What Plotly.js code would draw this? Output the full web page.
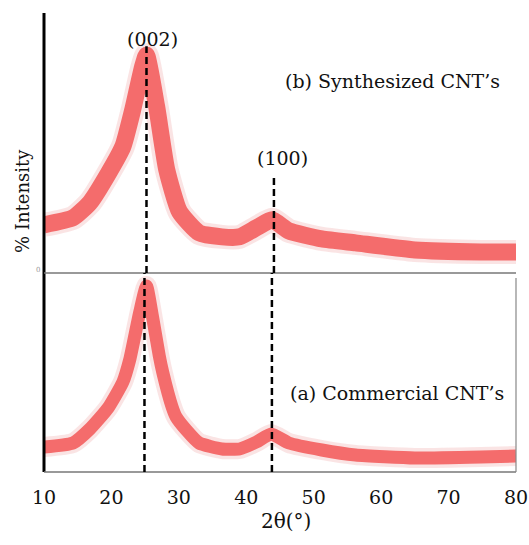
<!DOCTYPE html>
<html>
<head>
<meta charset="utf-8">
<script src="https://cdn.plot.ly/plotly-3.0.1.min.js"></script>
<style>html,body{margin:0;padding:0;background:#fff;}#chart{width:529px;height:545px;}</style>
</head>
<body>
<div id="chart"></div>
<script>
// (a) Commercial CNT's — 2θ (deg) and intensity (a.u.)
const twoThetaA = [10, 14.3, 16.8, 19.5, 21.7, 22.7, 24.2, 25.2, 26.1, 27.1, 27.6, 29, 29.6, 31.1, 33, 36.4, 39, 41.5, 43.7, 46.3, 51.2, 56.2, 65, 74.8, 80];
const intensityA = [25, 29, 43, 64, 90, 112, 160, 186, 155, 116, 100, 65, 55, 42, 29, 23, 23, 30, 38, 29, 22, 17, 14, 15, 16];
// (b) Synthesized CNT's
const twoThetaB = [10, 14.3, 16.8, 19.7, 21.7, 23.1, 24.6, 25.2, 26.7, 28.2, 30.1, 33, 36.4, 39, 41.5, 43.8, 46.3, 51.2, 56.2, 65, 74.8, 80];
const intensityB = [48, 55, 70, 101, 126, 161, 205, 217, 166, 103, 61, 40, 36, 36, 45, 53, 42, 34, 30, 23, 21, 21];
// peak markers
const peakLabels = ["(002)", "(100)"];
const peaksA = [24.9, 43.8];
const peaksB = [25.2, 44.1];
const xTicks = [10, 20, 30, 40, 50, 60, 70, 80];
const seriesLabels = ["(a) Commercial CNT\u2019s", "(b) Synthesized CNT\u2019s"];

const red = 'rgb(244,108,108)';
const fringe = 'rgba(230,130,130,0.22)';
const serif = 'DejaVu Serif';

function band(x, y, ya, w) {
  return [
    {x: x, y: y, xaxis: 'x', yaxis: ya, mode: 'lines',
     line: {color: fringe, width: w + 7, shape: 'spline', smoothing: 0.5}, hoverinfo: 'skip'},
    {x: x, y: y, xaxis: 'x', yaxis: ya, mode: 'lines',
     line: {color: red, width: w, shape: 'spline', smoothing: 0.5}, hoverinfo: 'skip'}
  ];
}
const traces = band(twoThetaA, intensityA, 'y', 13).concat(band(twoThetaB, intensityB, 'y2', 17));

const split = 199 / 459;
const dash = {color: '#000', width: 2.5, dash: '7px,4px'};
const shapes = [
  {type: 'line', xref: 'paper', yref: 'paper', x0: 0, x1: 0, y0: 0, y1: 1, line: {color: '#000', width: 3}},
  {type: 'line', xref: 'paper', yref: 'paper', x0: 0, x1: 1, y0: 0, y1: 0, line: {color: '#777', width: 1.5}},
  {type: 'line', xref: 'paper', yref: 'paper', x0: 0, x1: 1, y0: split, y1: split, line: {color: '#777', width: 1.5}},
  {type: 'line', xref: 'paper', yref: 'paper', x0: 1, x1: 1, y0: 0, y1: split - 5/459, line: {color: '#888', width: 1.2}},
  {type: 'line', xref: 'x', yref: 'y2', x0: peaksB[0], x1: peaksB[0], y0: 0, y1: 226, line: dash},
  {type: 'line', xref: 'x', yref: 'y2', x0: peaksB[1], x1: peaksB[1], y0: 0, y1: 96, line: dash},
  {type: 'line', xref: 'x', yref: 'y', x0: peaksA[0], x1: peaksA[0], y0: 0, y1: 199, line: dash},
  {type: 'line', xref: 'x', yref: 'y', x0: peaksA[1], x1: peaksA[1], y0: 0, y1: 199, line: dash}
];

const tf = {family: serif, size: 19, color: '#111'};
const annotations = [
  {x: 26.1, y: 233, xref: 'x', yref: 'y2', text: peakLabels[0], showarrow: false, font: tf, xanchor: 'center', yanchor: 'middle'},
  {x: 45.3, y: 115, xref: 'x', yref: 'y2', text: peakLabels[1], showarrow: false, font: tf, xanchor: 'center', yanchor: 'middle'},
  {x: 61.7, y: 191, xref: 'x', yref: 'y2', text: seriesLabels[1], showarrow: false, font: tf, xanchor: 'center', yanchor: 'middle'},
  {x: 62.3, y: 79, xref: 'x', yref: 'y', text: seriesLabels[0], showarrow: false, font: tf, xanchor: 'center', yanchor: 'middle'},
  {x: -21/472, y: (472 - 201) / 459, xref: 'paper', yref: 'paper', text: '% Intensity', textangle: -90, showarrow: false,
   font: {family: serif, size: 18, color: '#111'}, xanchor: 'center', yanchor: 'middle'},
  {x: 45.9, y: -49/459, xref: 'x', yref: 'paper', text: '2\u03b8(\u00b0)', showarrow: false,
   font: {family: serif, size: 20, color: '#111'}, xanchor: 'center', yanchor: 'middle'},
  {x: -6/472, y: (472 - 270) / 459, xref: 'paper', yref: 'paper', text: '0', showarrow: false,
   font: {family: serif, size: 7, color: '#999'}, xanchor: 'center', yanchor: 'middle'}
];

const layout = {
  width: 529, height: 545,
  margin: {l: 44, r: 13, t: 13, b: 73},
  paper_bgcolor: '#fff', plot_bgcolor: '#fff',
  showlegend: false,
  font: {family: serif},
  xaxis: {range: [10, 80], tickvals: xTicks, ticktext: xTicks.map(String), ticks: '', showgrid: false, zeroline: false,
          showline: false, anchor: 'y', ticklabelstandoff: 12, ticklabeloverflow: 'allow',
          tickfont: {family: serif, size: 19, color: '#111'}},
  yaxis: {domain: [0, split], range: [0, 199], showticklabels: false, showgrid: false, zeroline: false, ticks: ''},
  yaxis2: {domain: [split, 1], range: [0, 259], showticklabels: false, showgrid: false, zeroline: false, ticks: '', anchor: 'x'},
  shapes: shapes,
  annotations: annotations
};

Plotly.newPlot('chart', traces, layout, {staticPlot: true, displayModeBar: false});
</script>
</body>
</html>
